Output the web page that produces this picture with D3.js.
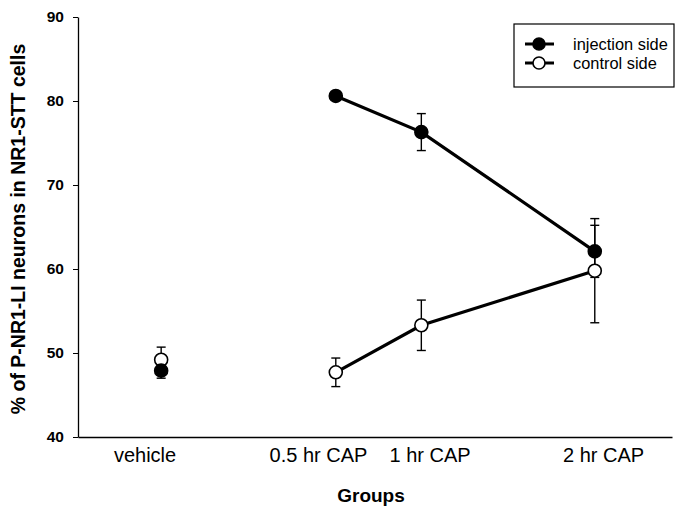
<!DOCTYPE html>
<html>
<head>
<meta charset="utf-8">
<script src="https://cdn.jsdelivr.net/npm/d3@7/dist/d3.min.js"></script>
<style>
  html, body { margin: 0; padding: 0; background: #fff; }
  svg { display: block; font-family: "Liberation Sans", Arial, sans-serif; }
</style>
</head>
<body>
<svg id="chart" width="678" height="510"></svg>
<script>
// ---- data ----
const groups = ["vehicle", "0.5 hr CAP", "1 hr CAP", "2 hr CAP"];
const groupX = [0.70, 2.17, 2.89, 4.35];        // position of each group on the x axis (axis units)
const labelX = [0.56, 2.02, 2.96, 4.42];        // tick-label positions (axis units)
const injectionMean = [47.9, 80.6, 76.3, 62.1];
const injectionErr  = [0.9, 0.3, 2.2, 3.1];
const controlMean   = [49.2, 47.7, 53.3, 59.8];
const controlErr    = [1.5, 1.7, 3.0, 6.2];
const yTicks = [40, 50, 60, 70, 80, 90];
const seriesNames = ["injection side", "control side"];

// ---- layout ----
const svg = d3.select("#chart");
const x = d3.scaleLinear().domain([0, 5]).range([78, 672]);
const y = d3.scaleLinear().domain([40, 90]).range([437, 17]);

// y axis
const yAxis = svg.append("g").attr("transform", "translate(78,0)")
  .call(d3.axisLeft(y).tickValues(yTicks).tickSize(5).tickSizeOuter(0).tickPadding(9));
yAxis.select(".domain").attr("stroke", "#000").attr("stroke-width", 1.3);
yAxis.selectAll(".tick line").attr("stroke", "#000");
yAxis.selectAll("text").attr("font-size", 15.5).attr("font-weight", "bold")
  .attr("font-family", "Liberation Sans, Arial, sans-serif").attr("fill", "#000");

// x axis
const xAxis = svg.append("g").attr("transform", "translate(0,437)")
  .call(d3.axisBottom(x).tickValues(labelX).tickFormat((d, i) => groups[i]).tickSize(0).tickPadding(11));
xAxis.select(".domain").attr("stroke", "#000").attr("stroke-width", 1.3);
xAxis.selectAll("text").attr("font-size", 20)
  .attr("font-family", "Liberation Sans, Arial, sans-serif").attr("fill", "#000");

// axis titles
svg.append("text")
  .attr("transform", "translate(25,229) rotate(-90)")
  .attr("text-anchor", "middle")
  .attr("font-size", 19.5).attr("font-weight", "bold")
  .text("% of P-NR1-LI neurons in NR1-STT cells");
svg.append("text")
  .attr("x", 371).attr("y", 502)
  .attr("text-anchor", "middle")
  .attr("font-size", 19).attr("font-weight", "bold")
  .text("Groups");

// series
const series = [
  { name: seriesNames[0], mean: injectionMean, err: injectionErr, fill: "#000" },
  { name: seriesNames[1], mean: controlMean, err: controlErr, fill: "#fff" }
];

const line = d3.line().x(d => x(d.x)).y(d => y(d.m));

// error bars (both series first)
series.forEach(s => {
  const pts = groups.map((g, i) => ({ x: groupX[i], m: s.mean[i], e: s.err[i] }));
  const eb = svg.append("g").attr("stroke", "#000").attr("stroke-width", 1.4);
  pts.forEach(p => {
    const cx = x(p.x), y1 = y(p.m + p.e), y2 = y(p.m - p.e);
    eb.append("line").attr("x1", cx).attr("x2", cx).attr("y1", y1).attr("y2", y2);
    eb.append("line").attr("x1", cx - 4.5).attr("x2", cx + 4.5).attr("y1", y1).attr("y2", y1);
    eb.append("line").attr("x1", cx - 4.5).attr("x2", cx + 4.5).attr("y1", y2).attr("y2", y2);
  });
});

series.forEach(s => {
  const pts = groups.map((g, i) => ({ x: groupX[i], m: s.mean[i] }));
  // connect only the CAP groups (vehicle is not connected)
  svg.append("path").datum(pts.slice(1))
    .attr("d", line).attr("fill", "none").attr("stroke", "#000").attr("stroke-width", 3.2);
});

series.slice().reverse().forEach(s => {
  const pts = groups.map((g, i) => ({ x: groupX[i], m: s.mean[i] }));
  svg.append("g").selectAll("circle").data(pts).join("circle")
    .attr("cx", d => x(d.x)).attr("cy", d => y(d.m)).attr("r", 6.5)
    .attr("fill", s.fill).attr("stroke", "#000").attr("stroke-width", 1.6);
});

// legend
const lg = svg.append("g");
lg.append("rect").attr("x", 514).attr("y", 24).attr("width", 160).attr("height", 63)
  .attr("fill", "#fff").attr("stroke", "#000").attr("stroke-width", 1.2);
series.forEach((s, i) => {
  const ly = 44 + i * 19;
  lg.append("line").attr("x1", 525).attr("x2", 554).attr("y1", ly).attr("y2", ly)
    .attr("stroke", "#000").attr("stroke-width", 3);
  lg.append("circle").attr("cx", 539).attr("cy", ly).attr("r", 6)
    .attr("fill", s.fill).attr("stroke", "#000").attr("stroke-width", 1.6);
  lg.append("text").attr("x", 573).attr("y", ly + 6).attr("font-size", 16.4).text(s.name);
});
</script>
</body>
</html>
